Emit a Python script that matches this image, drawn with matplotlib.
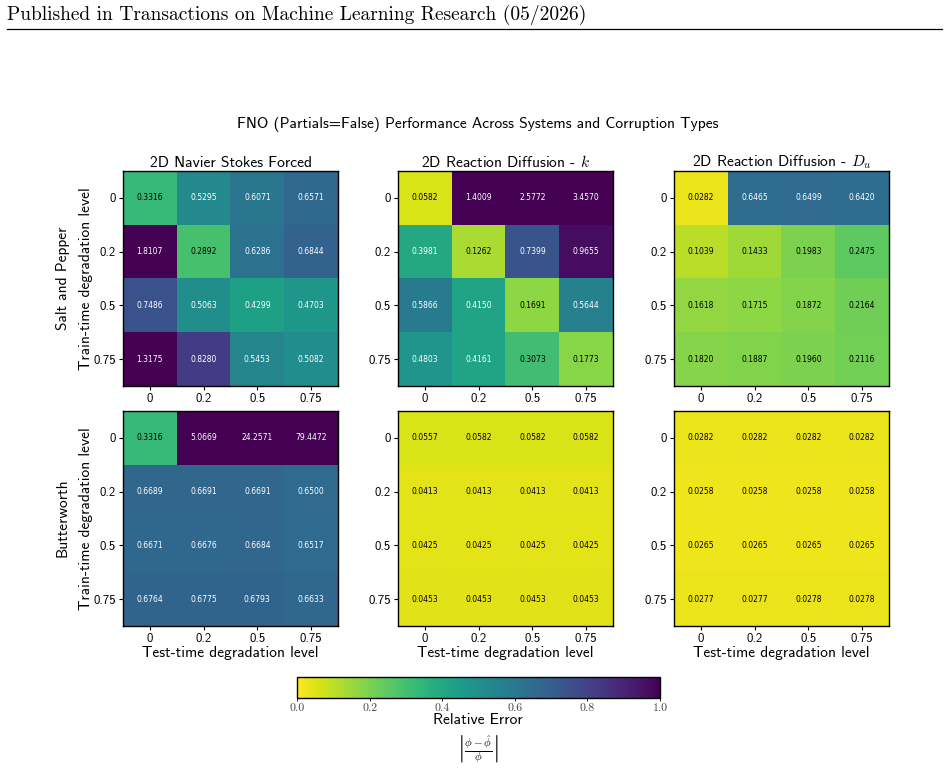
import numpy as np
import matplotlib
matplotlib.use("Agg")
import matplotlib.pyplot as plt
from matplotlib.lines import Line2D

# Relative error, rows = train-time level, cols = test-time level
levels = ["0", "0.2", "0.5", "0.75"]
systems = ["2D Navier Stokes Forced", "2D Reaction Diffusion - $k$", "2D Reaction Diffusion - $D_u$"]
corruptions = ["Salt and Pepper", "Butterworth"]

ns_salt = [[0.3316, 0.5295, 0.6071, 0.6571],
           [1.8107, 0.2892, 0.6286, 0.6844],
           [0.7486, 0.5063, 0.4299, 0.4703],
           [1.3175, 0.8280, 0.5453, 0.5082]]
rd_k_salt = [[0.0582, 1.4009, 2.5772, 3.4570],
             [0.3981, 0.1262, 0.7399, 0.9655],
             [0.5866, 0.4150, 0.1691, 0.5644],
             [0.4803, 0.4161, 0.3073, 0.1773]]
rd_du_salt = [[0.0282, 0.6465, 0.6499, 0.6420],
              [0.1039, 0.1433, 0.1983, 0.2475],
              [0.1618, 0.1715, 0.1872, 0.2164],
              [0.1820, 0.1887, 0.1960, 0.2116]]
ns_butter = [[0.3316, 5.0669, 24.2571, 79.4472],
             [0.6689, 0.6691, 0.6691, 0.6500],
             [0.6671, 0.6676, 0.6684, 0.6517],
             [0.6764, 0.6775, 0.6793, 0.6633]]
rd_k_butter = [[0.0557, 0.0582, 0.0582, 0.0582],
               [0.0413, 0.0413, 0.0413, 0.0413],
               [0.0425, 0.0425, 0.0425, 0.0425],
               [0.0453, 0.0453, 0.0453, 0.0453]]
rd_du_butter = [[0.0282, 0.0282, 0.0282, 0.0282],
                [0.0258, 0.0258, 0.0258, 0.0258],
                [0.0265, 0.0265, 0.0265, 0.0265],
                [0.0277, 0.0277, 0.0278, 0.0278]]

grid = [[ns_salt, rd_k_salt, rd_du_salt],
        [ns_butter, rd_k_butter, rd_du_butter]]

plt.rcParams["mathtext.fontset"] = "cm"
plt.rcParams["axes.unicode_minus"] = False
plt.rcParams["font.family"] = ["cmss10", "DejaVu Sans"]

W, H = 948, 771
fig = plt.figure(figsize=(W / 100, H / 100), dpi=100)


def px_axes(x, y, w, h):
    # place an axes using pixel coords measured from the top left
    return fig.add_axes([x / W, 1 - (y + h) / H, w / W, h / H])


# page header like the journal template
fig.text(7 / W, 1 - 15 / H, "Published in Transactions on Machine Learning Research (05/2026)",
         family="cmr10", fontsize=14, va="center", ha="left")
fig.add_artist(Line2D([7 / W, 942 / W], [1 - 29 / H, 1 - 29 / H], color="black", lw=0.9))

fig.text(478 / W, 1 - 125 / H,
         "FNO (Partials=False) Performance Across Systems and Corruption Types",
         fontsize=11.2, ha="center", va="center")

col_x = [123, 398, 674]
row_y = [171, 411]

for r in range(2):
    for c in range(3):
        ax = px_axes(col_x[c], row_y[r], 215, 215)
        vals = np.array(grid[r][c])
        im = ax.imshow(vals, cmap="viridis_r", vmin=0, vmax=1, aspect="auto")
        for i in range(4):
            for j in range(4):
                v = vals[i, j]
                ax.text(j, i, "%.4f" % v, ha="center", va="center", fontsize=5.5,
                        family="DejaVu Sans",
                        color="black" if v < 0.35 else "white")
        ax.set_xticks(range(4))
        ax.set_yticks(range(4))
        ax.set_xticklabels(levels, fontsize=9.2)
        ax.set_yticklabels(levels, fontsize=9.2)
        ax.tick_params(length=3, width=0.8, pad=2)
        for s in ax.spines.values():
            s.set_linewidth(1.0)
        if r == 0:
            ax.set_title(systems[c], fontsize=11.2, pad=3)
        else:
            ax.set_xlabel("Test-time degradation level", fontsize=11.1, labelpad=1)
        if c == 0:
            ax.set_ylabel("Train-time degradation level", fontsize=11.1)
            ax.yaxis.set_label_coords(-0.14, 0.5)
            fig.text(63 / W, 1 - (row_y[r] + 107) / H, corruptions[r], rotation=90,
                     fontsize=11.1, ha="center", va="center")

cax = px_axes(297, 677, 363, 21)
cb = fig.colorbar(im, cax=cax, orientation="horizontal")
cb.set_ticks([0.0, 0.2, 0.4, 0.6, 0.8, 1.0])
cb.set_ticklabels(["0.0", "0.2", "0.4", "0.6", "0.8", "1.0"])
for lab in cax.get_xticklabels():
    lab.set_family("cmr10")
    lab.set_fontsize(8.5)
    lab.set_color("#444444")
cax.tick_params(length=2, width=0.6, pad=2)
cb.outline.set_linewidth(1.0)
fig.text(478 / W, 1 - 720 / H, "Relative Error", fontsize=11.2, ha="center", va="center")
fig.text(478 / W, 1 - 749 / H, r"$\left|\frac{\phi-\hat{\phi}}{\phi}\right|$",
         fontsize=11.5, ha="center", va="center")

fig.savefig("out.png", dpi=100)
